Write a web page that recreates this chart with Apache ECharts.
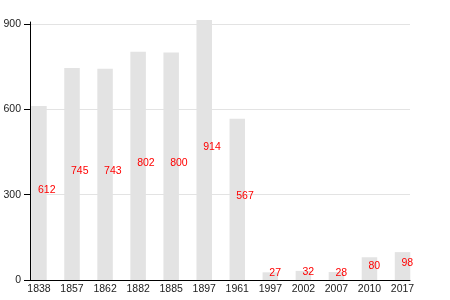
<!DOCTYPE html>
<html><head><meta charset="utf-8">
<script src="https://cdn.jsdelivr.net/npm/echarts@6/dist/echarts.min.js"></script>
<style>html,body{margin:0;padding:0;background:#fff}#c{width:450px;height:300px}</style>
</head><body><div id="c"></div>
<script>
var categories = ['1838','1857','1862','1882','1885','1897','1961','1997','2002','2007','2010','2017'];
var values = [612, 745, 743, 802, 800, 914, 567, 27, 32, 28, 80, 98];
var yTicks = [0, 300, 600, 900];

var FONT = '"Liberation Sans", Arial, sans-serif';
var chart = echarts.init(document.getElementById('c'), null, {renderer: 'canvas'});
chart.setOption({
  animation: false,
  backgroundColor: '#fff',
  grid: [
    {left: 30, right: 40, top: 22, bottom: 20},
    {left: 22.45, right: 30.95, top: 20, bottom: 20},
    {left: 30, right: 40, top: 23.98, bottom: 20}
  ],
  xAxis: [
    {gridIndex: 0, type: 'category', data: categories, boundaryGap: true,
     axisLine: {show: true, lineStyle: {color: '#000', width: 1}},
     axisTick: {show: false}, axisLabel: {show: false}, splitLine: {show: false}},
    {gridIndex: 1, type: 'category', data: categories, boundaryGap: true,
     axisLine: {show: false}, axisTick: {show: false},
     axisLabel: {show: true, color: '#222', fontSize: 10.5, fontFamily: FONT, margin: 4, interval: 0}},
    {gridIndex: 2, type: 'category', data: categories, show: false}
  ],
  yAxis: [
    {gridIndex: 0, type: 'value', min: 0, max: 100,
     axisLine: {show: true, lineStyle: {color: '#000', width: 1}},
     axisTick: {show: false}, axisLabel: {show: false}, splitLine: {show: false}},
    {gridIndex: 1, type: 'value', min: 0, max: 914, show: false, splitLine: {show: false}},
    {gridIndex: 2, type: 'value', min: yTicks[0], max: yTicks[yTicks.length - 1], interval: 300,
     axisLine: {show: false},
     axisTick: {show: true, length: 6, lineStyle: {color: '#000'}},
     axisLabel: {color: '#222', fontSize: 10.5, fontFamily: FONT, margin: 9},
     splitLine: {show: true, lineStyle: {color: '#e3e3e3', width: 1}}}
  ],
  series: [{
    type: 'bar', xAxisIndex: 1, yAxisIndex: 1,
    data: values, barWidth: 15.5,
    itemStyle: {color: '#e3e3e3'},
    label: {show: true, position: 'inside', align: 'left', verticalAlign: 'middle',
      offset: [-1, -3], color: '#ff0000', fontSize: 10.5, fontFamily: FONT}
  }]
});
</script></body></html>
